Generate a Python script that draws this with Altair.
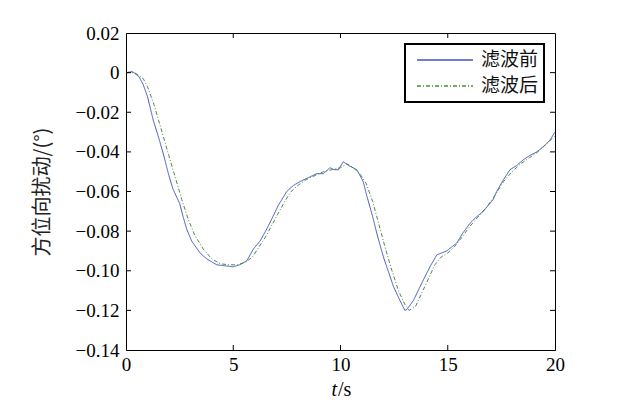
import altair as alt
import pandas as pd

t_before = [0, 0.3, 0.6, 0.8, 1.0, 1.27, 1.5, 1.74, 2.0, 2.2, 2.5, 2.67, 2.83, 3.06, 3.45, 3.76, 4.23, 4.6, 5.0, 5.3, 5.63, 5.94, 6.25, 6.56, 6.79, 7.1, 7.33, 7.49, 7.8, 8.11, 8.5, 8.89, 9.2, 9.51, 9.7, 9.9, 10.13, 10.4, 10.76, 11.06, 11.22, 11.38, 11.53, 11.69, 12.0, 12.25, 12.47, 12.77, 13.0, 13.1, 13.4, 13.8, 14.17, 14.49, 14.95, 15.42, 15.7, 16.04, 16.35, 16.66, 17.12, 17.28, 17.6, 17.9, 18.2, 18.52, 18.8, 19.15, 19.5, 19.77, 20.0]
v_before = [0, 0.0005, -0.002, -0.006, -0.012, -0.024, -0.032, -0.041, -0.052, -0.059, -0.066, -0.073, -0.079, -0.085, -0.091, -0.094, -0.097, -0.0975, -0.098, -0.097, -0.095, -0.089, -0.085, -0.079, -0.074, -0.067, -0.063, -0.060, -0.057, -0.055, -0.053, -0.051, -0.051, -0.048, -0.049, -0.049, -0.045, -0.047, -0.049, -0.055, -0.062, -0.068, -0.074, -0.081, -0.093, -0.101, -0.108, -0.115, -0.120, -0.1195, -0.115, -0.106, -0.098, -0.092, -0.090, -0.086, -0.081, -0.076, -0.0727, -0.070, -0.064, -0.060, -0.054, -0.049, -0.047, -0.044, -0.042, -0.040, -0.037, -0.034, -0.030]

t_after = [0, 0.4, 0.8, 1.0, 1.3, 1.6, 2.0, 2.3, 2.6, 2.9, 3.2, 3.6, 4.0, 4.4, 4.8, 5.2, 5.6, 5.9, 6.2, 6.5, 6.8, 7.1, 7.4, 7.7, 8.0, 8.4, 8.8, 9.2, 9.6, 10.0, 10.3, 10.6, 10.9, 11.2, 11.5, 11.8, 12.1, 12.4, 12.7, 13.0, 13.2, 13.5, 13.8, 14.1, 14.4, 14.7, 15.0, 15.3, 15.6, 16.0, 16.4, 16.8, 17.2, 17.6, 18.0, 18.4, 18.8, 19.2, 19.6, 20.0]
v_after = [0, 0.0, -0.003, -0.007, -0.016, -0.027, -0.042, -0.053, -0.064, -0.074, -0.082, -0.089, -0.094, -0.0965, -0.097, -0.097, -0.0955, -0.093, -0.088, -0.083, -0.077, -0.071, -0.065, -0.060, -0.057, -0.054, -0.052, -0.050, -0.049, -0.048, -0.046, -0.048, -0.051, -0.056, -0.065, -0.077, -0.089, -0.100, -0.110, -0.117, -0.120, -0.118, -0.111, -0.104, -0.097, -0.093, -0.091, -0.088, -0.084, -0.078, -0.073, -0.068, -0.062, -0.055, -0.050, -0.046, -0.043, -0.040, -0.036, -0.032]

series_names = ["滤波前", "滤波后"]
x_ticks = [0, 5, 10, 15, 20]
y_ticks = [0.02, 0, -0.02, -0.04, -0.06, -0.08, -0.10, -0.12, -0.14]

df = pd.concat([
    pd.DataFrame({"t": t_before, "v": v_before, "s": series_names[0], "o": range(len(t_before))}),
    pd.DataFrame({"t": t_after, "v": v_after, "s": series_names[1], "o": range(len(t_after))}),
])

W, H = 429, 317
serif = "Liberation Serif"
cjk = "Noto Sans CJK SC"
xs = alt.Scale(domain=[0, 20], nice=False)
ys = alt.Scale(domain=[-0.14, 0.02], nice=False)
x_axis = alt.Axis(values=x_ticks, title=None, tickSize=0, labelPadding=5,
                  labelFont=serif, labelFontSize=19, labelColor="black",
                  labelOverlap=False, labelFlush=False, domainColor="black")
y_axis = alt.Axis(values=y_ticks, title="方位向扰动/(°)", tickSize=0, labelPadding=7,
                  labelFont=serif, labelFontSize=19, labelColor="black",
                  labelOverlap=False, labelFlush=False,
                  labelExpr="datum.value == 0 ? '0' : replace(format(datum.value, '.2f'), '-', '−')",
                  titleFont=cjk, titleFontSize=20, titleFontWeight="normal",
                  titleColor="#222", titlePadding=23, domainColor="black")

lines = alt.Chart(df).mark_line(strokeWidth=1).encode(
    x=alt.X("t:Q", scale=xs, axis=x_axis),
    y=alt.Y("v:Q", scale=ys, axis=y_axis),
    color=alt.Color("s:N", scale=alt.Scale(domain=series_names, range=["#4455c0", "#4e8a3e"]),
                    legend=alt.Legend(title=None, orient="none", legendX=279, legendY=11,
                                      labelFont=cjk, labelFontSize=19, labelColor="#111",
                                      symbolType="stroke", symbolSize=3136, symbolStrokeWidth=1.3,
                                      symbolOffset=6, labelOffset=7, clipHeight=22)),
    strokeDash=alt.StrokeDash("s:N", scale=alt.Scale(domain=series_names, range=[[1, 0], [4, 2, 1, 2]]),
                              legend=alt.Legend(title=None)),
    order="o:Q",
)

xt = pd.DataFrame({"t": x_ticks[1:-1]})
yt = pd.DataFrame({"v": y_ticks[1:-1]})
tick_bottom = alt.Chart(xt).mark_rule(color="black").encode(x=alt.X("t:Q", scale=xs, axis=x_axis), y=alt.value(H), y2=alt.value(H - 5))
tick_top = alt.Chart(xt).mark_rule(color="black").encode(x=alt.X("t:Q", scale=xs, axis=x_axis), y=alt.value(0), y2=alt.value(5))
tick_left = alt.Chart(yt).mark_rule(color="black").encode(y=alt.Y("v:Q", scale=ys, axis=y_axis), x=alt.value(0), x2=alt.value(5))
tick_right = alt.Chart(yt).mark_rule(color="black").encode(y=alt.Y("v:Q", scale=ys, axis=y_axis), x=alt.value(W), x2=alt.value(W - 5))

xt_label = pd.DataFrame({"a": ["t"], "b": ["/s"]})
t_text = alt.Chart(xt_label).mark_text(font=serif, fontSize=20, fontStyle="italic", align="right", baseline="alphabetic", color="black").encode(
    text="a:N", x=alt.value(211), y=alt.value(H + 46))
s_text = alt.Chart(xt_label).mark_text(font=serif, fontSize=20, align="left", baseline="alphabetic", color="black").encode(
    text="b:N", x=alt.value(212), y=alt.value(H + 46))

chart = alt.layer(lines, tick_bottom, tick_top, tick_left, tick_right, t_text, s_text).properties(
    width=W, height=H,
    autosize=alt.AutoSizeParams(type="none"),
    padding={"left": 118, "top": 25, "right": 50, "bottom": 60},
).configure_view(stroke="black", strokeWidth=1).configure_axis(grid=False, labelOverlap=False).configure_legend(
    rowPadding=4, strokeColor="black", strokeWidth=2, fillColor="white", padding=5)

chart.save("out.html", embed_options={"renderer": "svg", "actions": False})
